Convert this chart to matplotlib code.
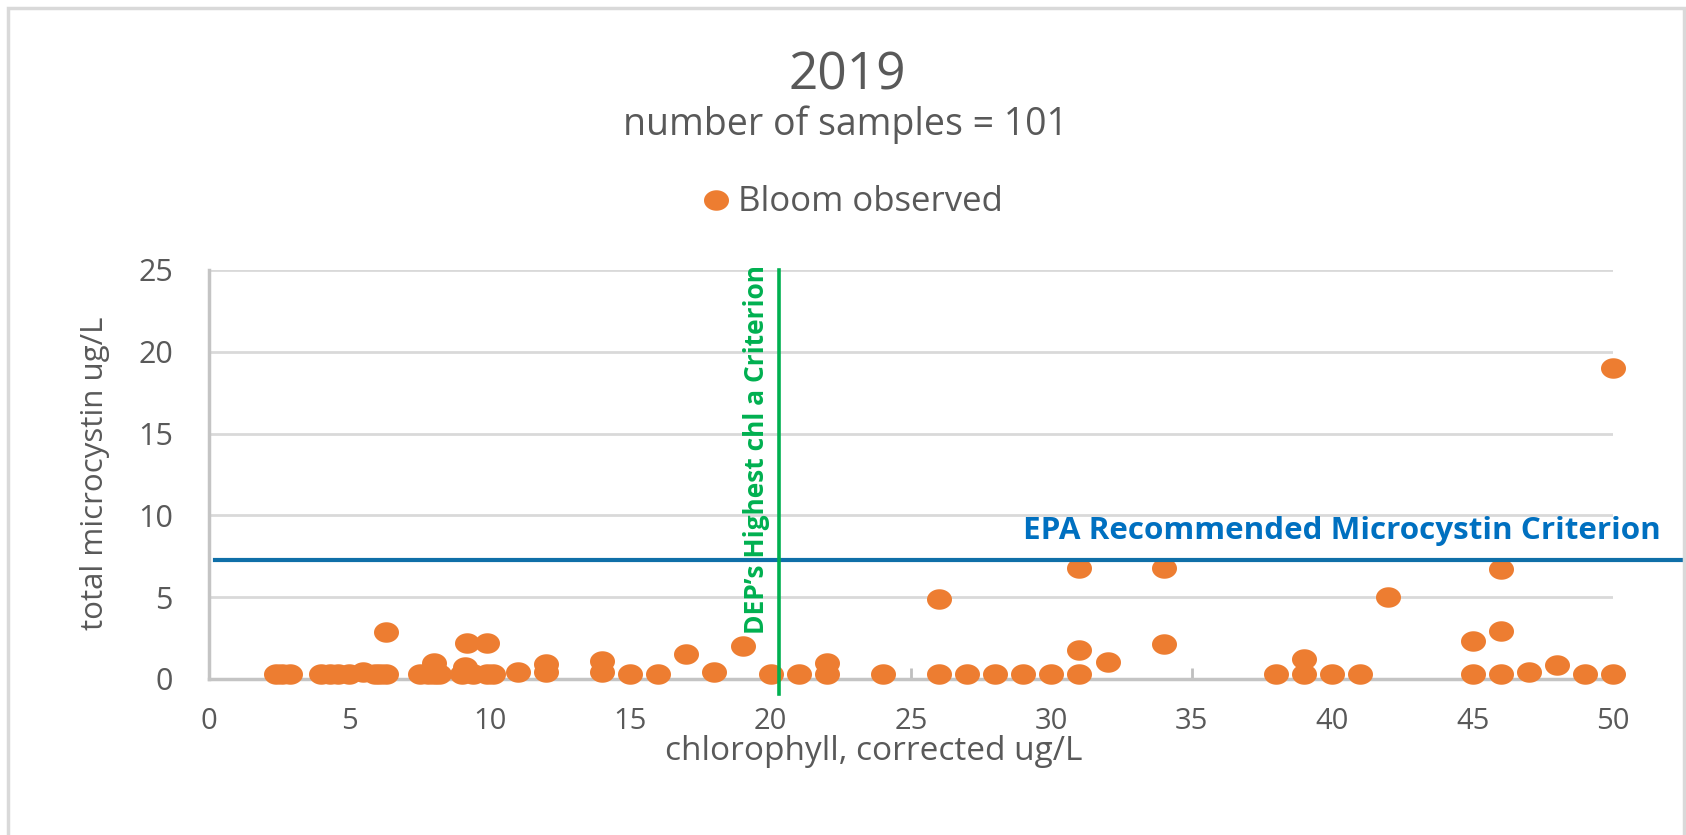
import numpy as np
import matplotlib.pyplot as plt
from matplotlib.path import Path
from matplotlib.patches import Rectangle

# chlorophyll (x) vs total microcystin (y)
chl = [2.4, 2.6, 2.9, 4.0, 4.3, 4.6, 5.0, 5.5, 5.9, 6.1, 6.3, 6.3,
       7.5, 7.8, 8.0, 8.2, 8.0,
       9.0, 9.1, 9.4, 9.9, 10.1, 9.2, 9.9,
       11.0, 12.0, 12.0, 14.0, 14.0, 15.0, 16.0, 17.0, 18.0, 19.0,
       20.0, 21.0, 22.0, 22.0, 24.0, 26.0, 26.0, 27.0, 28.0, 29.0, 30.0,
       31.0, 31.0, 31.0, 32.0, 34.0, 34.0,
       38.0, 39.0, 39.0, 40.0, 41.0, 42.0,
       45.0, 45.0, 46.0, 46.0, 46.0, 47.0, 48.0, 49.0, 50.0, 50.0]
mcy = [0.3, 0.3, 0.3, 0.3, 0.3, 0.3, 0.3, 0.45, 0.3, 0.3, 0.3, 2.85,
       0.3, 0.3, 0.3, 0.3, 1.0,
       0.3, 0.75, 0.3, 0.3, 0.3, 2.2, 2.2,
       0.4, 0.4, 0.9, 0.4, 1.1, 0.3, 0.3, 1.5, 0.4, 2.0,
       0.3, 0.3, 0.3, 1.0, 0.3, 0.3, 4.9, 0.3, 0.3, 0.3, 0.3,
       0.3, 1.75, 6.8, 1.05, 2.15, 6.8,
       0.3, 0.3, 1.2, 0.3, 0.3, 5.0,
       0.3, 2.3, 0.3, 2.95, 6.7, 0.45, 0.85, 0.3, 0.3, 19.0]

epa_criterion = 7.3
dep_criterion = 20.3
x_ticks = [0, 5, 10, 15, 20, 25, 30, 35, 40, 45, 50]
y_ticks = [0, 5, 10, 15, 20, 25]

orange = '#ED7D31'
grey_txt = '#595959'
plt.rcParams['font.family'] = ['Open Sans', 'DejaVu Sans']

# slightly wide dot, like the stretched picture
t = np.linspace(0, 2 * np.pi, 80)
dot = Path(np.column_stack([1.22 * np.cos(t), np.sin(t)]), closed=True)

fig = plt.figure(figsize=(16.86, 8.35), dpi=100)
W, H = 1686, 835
ax = fig.add_axes([209 / W, 1 - 679 / H, (1613 - 209) / W, (679 - 270) / H])

ax.plot(chl, mcy, linestyle='none', marker=dot, markersize=18,
        color=orange, markeredgewidth=0, clip_on=False, zorder=3)

ax.set_xlim(0, 50)
ax.set_ylim(0, 25)
ax.set_xticks(x_ticks)
ax.set_yticks(y_ticks)
ax.tick_params(axis='x', direction='in', length=8, width=2, color='#BFBFBF',
               labelsize=21, labelcolor=grey_txt, pad=20)
ax.tick_params(axis='y', length=0, labelsize=22, labelcolor=grey_txt, pad=26)
ax.yaxis.grid(True, color='#D9D9D9', linewidth=2)
ax.set_axisbelow(True)
for s in ['top', 'right']:
    ax.spines[s].set_visible(False)
for s in ['left', 'bottom']:
    ax.spines[s].set_color('#C4C4C4')
    ax.spines[s].set_linewidth(2.5)

# criterion lines
ax.plot([0.2, 52.6], [epa_criterion, epa_criterion], color='#0F6FA8',
        linewidth=3, clip_on=False, zorder=4)
ax.text(29.0, 9.05, 'EPA Recommended Microcystin Criterion', color='#0070C0',
        fontsize=22.6, fontweight='bold', ha='left', va='center', clip_on=False)
ax.plot([dep_criterion, dep_criterion], [-0.9, 25], color='#00B050',
        linewidth=2.6, clip_on=False, zorder=4)
ax.text(19.5, 14.0, 'DEP\u2019s Highest chl a Criterion', color='#00B050',
        fontsize=19, fontweight='bold', rotation=90, ha='center', va='center')

# titles and labels
fig.text(847 / W, 1 - 76 / H, '2019', fontsize=37, color=grey_txt,
         ha='center', va='center')
fig.text(845 / W, 1 - 125 / H, 'number of samples = 101', fontsize=27,
         color=grey_txt, ha='center', va='center')
fig.text(874 / W, 1 - 752 / H, 'chlorophyll, corrected ug/L', fontsize=24,
         color=grey_txt, ha='center', va='center')
fig.text(95 / W, 1 - 473 / H, 'total microcystin ug/L', fontsize=22.5,
         color=grey_txt, ha='center', va='center', rotation=90)

# legend
fig.lines.append(plt.Line2D([716 / W], [1 - 200 / H], marker=dot, markersize=18,
                            color=orange, markeredgewidth=0,
                            transform=fig.transFigure))
fig.text(738 / W, 1 - 202 / H, 'Bloom observed', fontsize=25, color=grey_txt,
         ha='left', va='center')

# chart area border
fig.patches.append(Rectangle((8 / W, -0.1), (1684 - 8) / W, 1.1 - 8 / H,
                             transform=fig.transFigure, fill=False,
                             edgecolor='#D9D9D9', linewidth=2.5))

fig.savefig('out.png', dpi=100)
